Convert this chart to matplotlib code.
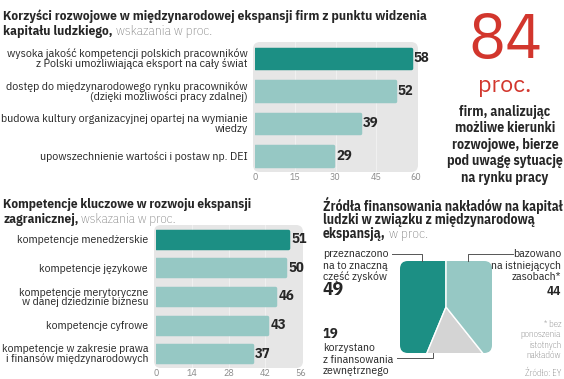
import matplotlib
matplotlib.use('Agg')
import matplotlib.pyplot as plt
from matplotlib.patches import FancyBboxPatch
from matplotlib.lines import Line2D
from matplotlib.transforms import Affine2D

W, H = 564, 379
COND = ['IBM Plex Sans Condensed', 'DejaVu Sans']
PLEX = ['IBM Plex Sans', 'DejaVu Sans']
plt.rcParams['font.family'] = COND

# data
benefit_labels = ['wysoka jakość kompetencji polskich pracowników\nz Polski umożliwiająca eksport na cały świat',
                  'dostęp do międzynarodowego rynku pracowników\n(dzięki możliwości pracy zdalnej)',
                  'budowa kultury organizacyjnej opartej na wymianie\nwiedzy',
                  'upowszechnienie wartości i postaw np. DEI']
benefit_values = [58, 52, 39, 29]
benefit_ticks = [0, 15, 30, 45, 60]

skill_labels = ['kompetencje menedżerskie',
                'kompetencje językowe',
                'kompetencje merytoryczne\nw danej dziedzinie biznesu',
                'kompetencje cyfrowe',
                'kompetencje w zakresie prawa\ni finansów międzynarodowych']
skill_values = [51, 50, 46, 43, 37]
skill_ticks = [0, 14, 28, 42, 56]

funding_labels = [['przeznaczono', 'na to znaczną', 'część zysków'],
                  ['korzystano', 'z finansowania', 'zewnętrznego'],
                  ['bazowano', 'na istniejących', 'zasobach*']]
funding_values = [49, 19, 44]

DARK = '#1c8f84'
LIGHT = '#96c8c4'
BG = '#e6e6e6'
GREY_PIE = '#d4d4d4'
RED = '#d2362d'
TXT = '#262626'
SOFT = '#7a7a7a'

fig = plt.figure(figsize=(W / 100, H / 100), dpi=100)
pxt = Affine2D().scale(1 / W, -1 / H).translate(0, 1) + fig.transFigure
renderer = fig.canvas.get_renderer()


def rect(x0, y0, x1, y1):
    return [x0 / W, 1 - y1 / H, (x1 - x0) / W, (y1 - y0) / H]


def txt(x, y, s, **kw):
    kw.setdefault('color', TXT)
    kw.setdefault('va', 'baseline')
    return fig.text(x / W, 1 - y / H, s, **kw)


def fit(s, width, **kw):
    t = fig.text(0, 0, s, fontsize=10, **kw)
    w = t.get_window_extent(renderer).width
    t.remove()
    return 10 * width / w


def title(x, y, bold, light, size):
    t = txt(x, y, bold, fontsize=size, fontweight='bold')
    if light:
        bb = t.get_window_extent(renderer)
        txt(bb.x1 + 3, y, light, fontsize=size, color=SOFT, fontweight='light')


def background(x0, y0, x1, y1):
    p = FancyBboxPatch((x0, y0), x1 - x0, y1 - y0, boxstyle='round,pad=0,rounding_size=7',
                       transform=pxt, facecolor=BG, edgecolor='none', zorder=-1)
    fig.add_artist(p)


def bar_chart(box, labels, values, ticks, lab_x, fontsize, height):
    x0, y0, x1, y1 = box
    background(x0 - 2, y0, x1 + 2, y1)
    ax = fig.add_axes(rect(*box))
    ax.patch.set_visible(False)
    n = len(values)
    colors = [DARK] + [LIGHT] * (n - 1)
    ax.barh(range(n), values, height=height, color=colors, edgecolor=colors,
            linewidth=2.5, joinstyle='round', zorder=3)
    for i, v in enumerate(values):
        ax.text(v + 1.2, i, str(v), va='center', ha='left', fontsize=10.5,
                fontweight='bold', color=TXT, zorder=4)
    ax.set_xlim(ticks[0], ticks[-1])
    ax.set_ylim(n - 0.5, -0.5)
    ax.set_xticks(ticks)
    ax.set_xticklabels([str(t) for t in ticks], fontsize=6.5, color='#8a8a8a', family=PLEX)
    ax.tick_params(axis='x', length=0, pad=1)
    for t in ticks[1:-1]:
        ax.axvline(t, color='#f3f3f3', lw=0.6, zorder=1)
    for s in ax.spines.values():
        s.set_visible(False)
    ax.set_yticks(range(n))
    ax.set_yticklabels(labels, fontsize=fontsize, color=TXT, linespacing=0.92)
    # pad is in points; 1 px = 0.72 pt at 100 dpi
    ax.tick_params(axis='y', length=0, pad=(x0 - lab_x) * 0.72)
    return ax


# chart 1
s1 = fit('Korzyści rozwojowe w międzynarodowej ekspansji firm z punktu widzenia', 422, fontweight='bold')
title(3, 20, 'Korzyści rozwojowe w międzynarodowej ekspansji firm z punktu widzenia', None, s1)
title(3, 35, 'kapitału ludzkiego,', 'wskazania w proc.', s1)
f1 = fit('budowa kultury organizacyjnej opartej na wymianie', 245)
bar_chart((255, 42, 416, 172), benefit_labels, benefit_values, benefit_ticks, 248, f1, 0.6)

# big number
s84 = fit('84', 74, family=PLEX, fontweight='medium')
txt(505, 58, '84', fontsize=s84, color=RED, ha='center', family=PLEX, fontweight='medium')
sp = fit('proc.', 53, family=PLEX)
txt(505, 92, 'proc.', fontsize=sp, color=RED, ha='center', family=PLEX)
sb = fit('pod uwagę sytuację', 116, fontweight='bold')
for i, line in enumerate(['firm, analizując', 'możliwe kierunki', 'rozwojowe, bierze',
                          'pod uwagę sytuację', 'na rynku pracy']):
    txt(505, 116 + 16.5 * i, line, fontsize=sb, fontweight='bold', ha='center')

# chart 2
s2 = fit('Kompetencje kluczowe w rozwoju ekspansji', 248, fontweight='bold')
title(3, 208, 'Kompetencje kluczowe w rozwoju ekspansji', None, s2)
title(3, 223, 'zagranicznej,', 'wskazania w proc.', s2)
f2 = min(fit('i finansów międzynarodowych', 145), fit('kompetencje w zakresie prawa', 145))
bar_chart((156, 225, 301, 368), skill_labels, skill_values, skill_ticks, 148, f2, 0.6)

# chart 3: square pie
s3 = fit('Źródła finansowania nakładów na kapitał', 239, fontweight='bold')
title(323, 211, 'Źródła finansowania nakładów na kapitał', None, s3)
title(323, 224, 'ludzki w związku z międzynarodową', None, s3)
title(323, 238, 'ekspansją,', 'w proc.', s3)

axp = fig.add_axes(rect(399, 261, 493, 353))
wedges, _ = axp.pie(funding_values, colors=[DARK, GREY_PIE, LIGHT], startangle=90,
                    counterclock=True, radius=1.6,
                    wedgeprops=dict(edgecolor='white', linewidth=1))
axp.set_xlim(-1, 1)
axp.set_ylim(-1, 1)
axp.set_aspect('equal')
axp.axis('off')
clip = FancyBboxPatch((-1, -1), 2, 2, boxstyle='round,pad=0,rounding_size=0.17')
clip_path = clip.get_path()
for w in wedges:
    w.set_clip_on(True)
    w.set_clip_path(clip_path, axp.transData)

lk = dict(color='#555555', lw=0.7, transform=pxt)
fig.add_artist(Line2D([392, 422, 422], [254, 254, 261], **lk))
fig.add_artist(Line2D([468, 468, 513], [261, 254, 254], **lk))
fig.add_artist(Line2D([433, 433, 397], [353, 358, 358], **lk))

fl = fit('przeznaczono', 65)
for i, line in enumerate(funding_labels[0]):
    txt(323, 257 + 11.7 * i, line, fontsize=fl)
txt(322, 295, str(funding_values[0]), fontsize=14, fontweight='bold')
txt(323, 338, str(funding_values[1]), fontsize=10.5, fontweight='bold')
for i, line in enumerate(funding_labels[1]):
    txt(323, 351 + 11.7 * i, line, fontsize=fl)
for i, line in enumerate(funding_labels[2]):
    txt(561, 257 + 11.7 * i, line, fontsize=fl, ha='right')
txt(561, 295, str(funding_values[2]), fontsize=9.5, fontweight='bold', ha='right')
for i, line in enumerate(['* bez', 'ponoszenia', 'istotnych', 'nakładów']):
    txt(561, 327 + 10.3 * i, line, fontsize=6.5, color='#6e6e6e', fontweight='light', ha='right')
txt(561, 376, 'Źródło: EY', fontsize=6.5, color='#6e6e6e', fontweight='light', ha='right')

fig.savefig('out.png', dpi=100)
